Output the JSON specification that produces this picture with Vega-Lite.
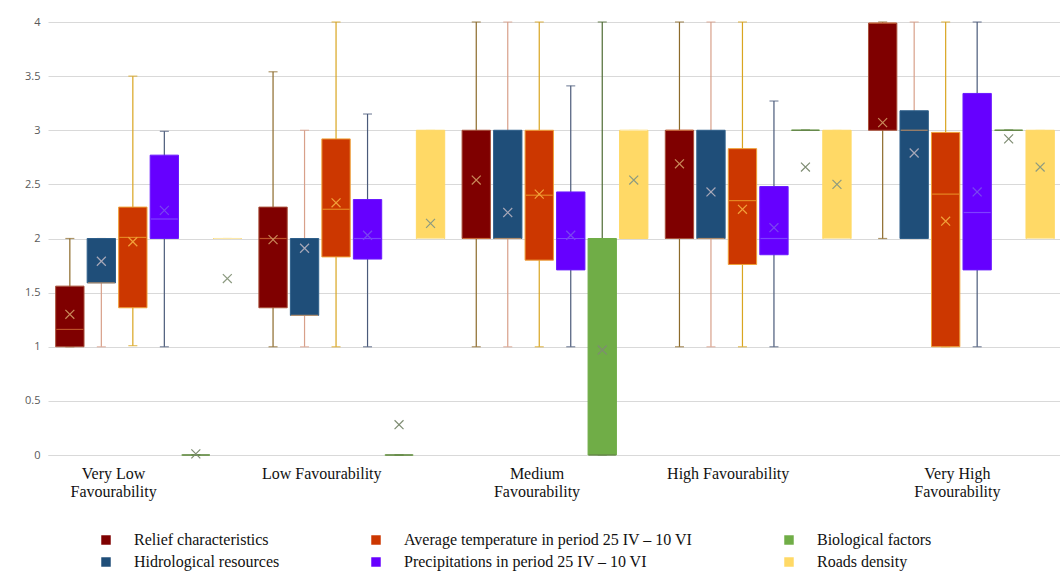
{
  "$schema": "https://vega.github.io/schema/vega-lite/v6.json",
  "width": 1014,
  "height": 433,
  "autosize": {"type": "none"},
  "padding": {"left": 48, "top": 22, "right": 0, "bottom": 117},
  "background": "white",
  "config": {
    "view": {"stroke": null},
    "axisY": {"labelFont": "Open Sans", "labelFontSize": 11, "labelColor": "#595959", "gridColor": "#D9D9D9", "domain": false, "ticks": false, "labelPadding": 8},
    "axisX": {"labelFont": "Liberation Serif", "labelFontSize": 16, "labelColor": "#111111", "domainColor": "#D9D9D9", "ticks": false, "labelAngle": 0, "labelPadding": 10, "grid": false},
    "legend": {"orient": "none", "legendX": 50, "legendY": 510, "columns": 3, "columnPadding": 88, "rowPadding": 6, "labelFont": "Liberation Serif", "labelFontSize": 16, "labelColor": "#111111", "labelLimit": 500, "symbolType": "square", "symbolSize": 90, "symbolStrokeWidth": 0, "labelOffset": 20, "padding": 0, "title": null}
  },
  "data": {
    "values": [
      {"cat": "Very Low Favourability", "series": "Relief characteristics", "min": 1, "q1": 1, "median": 1.16, "q3": 1.56, "max": 2, "mean": 1.3},
      {"cat": "Very Low Favourability", "series": "Hidrological resources", "min": 1, "q1": 1.59, "median": 1.59, "q3": 2, "max": 2, "mean": 1.79},
      {"cat": "Very Low Favourability", "series": "Average temperature in period 25 IV – 10 VI", "min": 1.01, "q1": 1.36, "median": 2.01, "q3": 2.29, "max": 3.5, "mean": 1.97},
      {"cat": "Very Low Favourability", "series": "Precipitations in period 25 IV – 10 VI", "min": 1, "q1": 2, "median": 2.18, "q3": 2.77, "max": 2.99, "mean": 2.26},
      {"cat": "Very Low Favourability", "series": "Biological factors", "min": 0, "q1": 0, "median": 0, "q3": 0, "max": 0, "mean": 0.01},
      {"cat": "Very Low Favourability", "series": "Roads density", "min": 2, "q1": 2, "median": 2, "q3": 2, "max": 2, "mean": 1.63},
      {"cat": "Low Favourability", "series": "Relief characteristics", "min": 1, "q1": 1.36, "median": 2, "q3": 2.29, "max": 3.54, "mean": 1.99},
      {"cat": "Low Favourability", "series": "Hidrological resources", "min": 1, "q1": 1.29, "median": 1.29, "q3": 2, "max": 3, "mean": 1.91},
      {"cat": "Low Favourability", "series": "Average temperature in period 25 IV – 10 VI", "min": 1, "q1": 1.83, "median": 2.27, "q3": 2.92, "max": 4, "mean": 2.33},
      {"cat": "Low Favourability", "series": "Precipitations in period 25 IV – 10 VI", "min": 1, "q1": 1.81, "median": 2, "q3": 2.36, "max": 3.15, "mean": 2.03},
      {"cat": "Low Favourability", "series": "Biological factors", "min": 0, "q1": 0, "median": 0, "q3": 0, "max": 0, "mean": 0.28},
      {"cat": "Low Favourability", "series": "Roads density", "min": 2, "q1": 2, "median": 2, "q3": 3, "max": 3, "mean": 2.14},
      {"cat": "Medium Favourability", "series": "Relief characteristics", "min": 1, "q1": 2, "median": 2, "q3": 3, "max": 4, "mean": 2.54},
      {"cat": "Medium Favourability", "series": "Hidrological resources", "min": 1, "q1": 2, "median": 2, "q3": 3, "max": 4, "mean": 2.24},
      {"cat": "Medium Favourability", "series": "Average temperature in period 25 IV – 10 VI", "min": 1, "q1": 1.8, "median": 2.4, "q3": 3, "max": 4, "mean": 2.41},
      {"cat": "Medium Favourability", "series": "Precipitations in period 25 IV – 10 VI", "min": 1, "q1": 1.71, "median": 2, "q3": 2.43, "max": 3.41, "mean": 2.03},
      {"cat": "Medium Favourability", "series": "Biological factors", "min": 0, "q1": 0, "median": 0, "q3": 2, "max": 4, "mean": 0.97},
      {"cat": "Medium Favourability", "series": "Roads density", "min": 2, "q1": 2, "median": 3, "q3": 3, "max": 3, "mean": 2.54},
      {"cat": "High Favourability", "series": "Relief characteristics", "min": 1, "q1": 2, "median": 3, "q3": 3, "max": 4, "mean": 2.69},
      {"cat": "High Favourability", "series": "Hidrological resources", "min": 1, "q1": 2, "median": 2, "q3": 3, "max": 4, "mean": 2.43},
      {"cat": "High Favourability", "series": "Average temperature in period 25 IV – 10 VI", "min": 1, "q1": 1.76, "median": 2.35, "q3": 2.83, "max": 4, "mean": 2.27},
      {"cat": "High Favourability", "series": "Precipitations in period 25 IV – 10 VI", "min": 1, "q1": 1.85, "median": 2, "q3": 2.48, "max": 3.27, "mean": 2.1},
      {"cat": "High Favourability", "series": "Biological factors", "min": 3, "q1": 3, "median": 3, "q3": 3, "max": 3, "mean": 2.66},
      {"cat": "High Favourability", "series": "Roads density", "min": 2, "q1": 2, "median": 2, "q3": 3, "max": 3, "mean": 2.5},
      {"cat": "Very High Favourability", "series": "Relief characteristics", "min": 2, "q1": 3, "median": 3.99, "q3": 3.99, "max": 4, "mean": 3.07},
      {"cat": "Very High Favourability", "series": "Hidrological resources", "min": 2, "q1": 2, "median": 3, "q3": 3.18, "max": 4, "mean": 2.79},
      {"cat": "Very High Favourability", "series": "Average temperature in period 25 IV – 10 VI", "min": 1, "q1": 1, "median": 2.41, "q3": 2.98, "max": 4, "mean": 2.16},
      {"cat": "Very High Favourability", "series": "Precipitations in period 25 IV – 10 VI", "min": 1, "q1": 1.71, "median": 2.24, "q3": 3.34, "max": 4, "mean": 2.43},
      {"cat": "Very High Favourability", "series": "Biological factors", "min": 3, "q1": 3, "median": 3, "q3": 3, "max": 3, "mean": 2.92},
      {"cat": "Very High Favourability", "series": "Roads density", "min": 2, "q1": 2, "median": 2, "q3": 3, "max": 3, "mean": 2.66}
    ]
  },
  "encoding": {
    "x": {
      "field": "cat", "type": "nominal",
      "sort": ["Very Low Favourability", "Low Favourability", "Medium Favourability", "High Favourability", "Very High Favourability"],
      "scale": {"paddingInner": 0.07, "paddingOuter": 0.03},
      "axis": {
        "title": null,
        "labelOffset": {"condition": [
          {"test": "datum.label == 'Very High Favourability'", "value": -4},
          {"test": "datum.label == 'Very Low Favourability'", "value": -35},
          {"test": "datum.label == 'Medium Favourability'", "value": -18}
        ], "value": -30},
        "labelExpr": "datum.label == 'Low Favourability' || datum.label == 'High Favourability' ? datum.label : split(replace(datum.label, ' Favourability', '|Favourability'), '|')"
      }
    },
    "xOffset": {
      "field": "series", "type": "nominal",
      "sort": ["Relief characteristics", "Hidrological resources", "Average temperature in period 25 IV – 10 VI", "Precipitations in period 25 IV – 10 VI", "Biological factors", "Roads density"],
      "scale": {"paddingInner": 0.1, "paddingOuter": 0.05}
    }
  },
  "layer": [
    {
      "mark": {"type": "rule", "strokeWidth": 1.2},
      "encoding": {
        "y": {"field": "min", "type": "quantitative", "scale": {"domain": [0, 4]}, "axis": {"title": null, "values": [0, 0.5, 1, 1.5, 2, 2.5, 3, 3.5, 4], "format": "~f"}},
        "y2": {"field": "max"},
        "color": {"field": "series", "type": "nominal", "legend": null,
          "scale": {"domain": ["Relief characteristics", "Hidrological resources", "Average temperature in period 25 IV – 10 VI", "Precipitations in period 25 IV – 10 VI", "Biological factors", "Roads density"],
                    "range": ["#8C6A2A", "#D8A08A", "#D9A520", "#4A5A7A", "#4E6B34", "#F6EBC0"]}}
      }
    },
    {
      "mark": {"type": "tick", "thickness": 1.2, "size": 9},
      "encoding": {
        "y": {"field": "max", "type": "quantitative"},
        "color": {"field": "series", "type": "nominal", "legend": null,
          "scale": {"domain": ["Relief characteristics", "Hidrological resources", "Average temperature in period 25 IV – 10 VI", "Precipitations in period 25 IV – 10 VI", "Biological factors", "Roads density"],
                    "range": ["#8C6A2A", "#D8A08A", "#D9A520", "#4A5A7A", "#4E6B34", "#F6EBC0"]}}
      }
    },
    {
      "mark": {"type": "tick", "thickness": 1.2, "size": 9},
      "encoding": {
        "y": {"field": "min", "type": "quantitative"},
        "color": {"field": "series", "type": "nominal", "legend": null,
          "scale": {"domain": ["Relief characteristics", "Hidrological resources", "Average temperature in period 25 IV – 10 VI", "Precipitations in period 25 IV – 10 VI", "Biological factors", "Roads density"],
                    "range": ["#8C6A2A", "#D8A08A", "#D9A520", "#4A5A7A", "#4E6B34", "#F6EBC0"]}}
      }
    },
    {
      "mark": {"type": "bar", "strokeWidth": 1},
      "encoding": {
        "y": {"field": "q1", "type": "quantitative"},
        "y2": {"field": "q3"},
        "color": {"field": "series", "type": "nominal",
          "scale": {"domain": ["Relief characteristics", "Hidrological resources", "Average temperature in period 25 IV – 10 VI", "Precipitations in period 25 IV – 10 VI", "Biological factors", "Roads density"],
                    "range": ["#7F0000", "#1F4E79", "#CC3700", "#6600FF", "#70AD47", "#FFD966"]},
          "legend": {}},
        "stroke": {"field": "series", "type": "nominal", "legend": null,
          "scale": {"domain": ["Relief characteristics", "Hidrological resources", "Average temperature in period 25 IV – 10 VI", "Precipitations in period 25 IV – 10 VI", "Biological factors", "Roads density"],
                    "range": ["#A8503A", "#2E5F8A", "#EFA038", "#6A1AFF", "#70AD47", "#FFD966"]}}
      }
    },
    {
      "mark": {"type": "tick", "thickness": 1.2, "size": 27},
      "encoding": {
        "y": {"field": "median", "type": "quantitative"},
        "color": {"field": "series", "type": "nominal", "legend": null,
          "scale": {"domain": ["Relief characteristics", "Hidrological resources", "Average temperature in period 25 IV – 10 VI", "Precipitations in period 25 IV – 10 VI", "Biological factors", "Roads density"],
                    "range": ["#D9743A", "#E8A060", "#F0A830", "#8A5CFF", "#5C6E4A", "#FCEFC8"]}}
      }
    },
    {
      "mark": {"type": "point", "shape": "M-1,-1L1,1M-1,1L1,-1", "filled": false, "size": 80, "strokeWidth": 1.2, "opacity": 1},
      "encoding": {
        "y": {"field": "mean", "type": "quantitative"},
        "color": {"field": "series", "type": "nominal", "legend": null,
          "scale": {"domain": ["Relief characteristics", "Hidrological resources", "Average temperature in period 25 IV – 10 VI", "Precipitations in period 25 IV – 10 VI", "Biological factors", "Roads density"],
                    "range": ["#C98A5A", "#A8A8B8", "#F2A23A", "#7A45F0", "#7E8C72", "#8C9A80"]}}
      }
    }
  ],
  "resolve": {"scale": {"color": "independent", "stroke": "independent"}}
}
